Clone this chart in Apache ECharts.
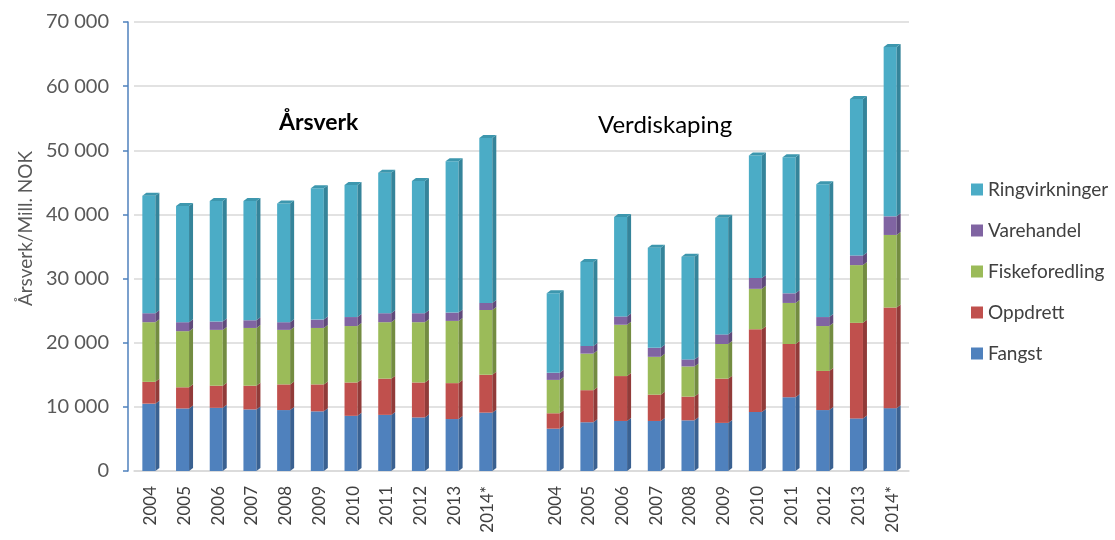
<!DOCTYPE html>
<html>
<head>
<meta charset="utf-8">
<script src="https://cdn.jsdelivr.net/npm/echarts@6/dist/echarts.min.js"></script>
<style>
  html, body { margin: 0; padding: 0; background: #fff; }
  #chart { width: 1115px; height: 540px; }
</style>
</head>
<body>
<div id="chart"></div>
<script>
const years = ['2004', '2005', '2006', '2007', '2008', '2009', '2010', '2011', '2012', '2013', '2014*'];

// Årsverk
const fangstAr   = [10500, 9750, 9850, 9600, 9500, 9300, 8600, 8750, 8350, 8100, 9100];
const oppdrettAr = [3400, 3300, 3450, 3700, 4000, 4200, 5200, 5650, 5450, 5600, 5900];
const fiskeAr    = [9300, 8750, 8700, 9000, 8500, 8800, 8800, 8800, 9400, 9700, 10100];
const vareAr     = [1400, 1400, 1300, 1200, 1200, 1300, 1400, 1400, 1400, 1300, 1100];
const ringAr     = [18300, 18100, 18800, 18600, 18500, 20500, 20600, 21900, 20600, 23600, 25700];

// Verdiskaping (Mill. NOK)
const fangstVs   = [6600, 7600, 7800, 7800, 7900, 7500, 9200, 11500, 9500, 8200, 9800];
const oppdrettVs = [2400, 5000, 7000, 4100, 3700, 6900, 12900, 8300, 6100, 14900, 15700];
const fiskeVs    = [5200, 5700, 8000, 5900, 4700, 5400, 6300, 6400, 7000, 9000, 11300];
const vareVs     = [1100, 1200, 1300, 1400, 1100, 1500, 1700, 1500, 1400, 1500, 2900];
const ringVs     = [12400, 13100, 15500, 15600, 16000, 18200, 19100, 21200, 20700, 24400, 26400];

const seriesNames = ['Fangst', 'Oppdrett', 'Fiskeforedling', 'Varehandel', 'Ringvirkninger'];
const colors     = ['#4f81bd', '#c0504d', '#9bbb59', '#8064a2', '#4bacc6'];
const sideColors = ['#3a6191', '#913b39', '#738c41', '#5f4a7a', '#35849a'];
const topColors  = ['#4674aa', '#ad4845', '#8ca850', '#735a92', '#3d97ae'];

const groupAr = [fangstAr, oppdrettAr, fiskeAr, vareAr, ringAr];
const groupVs = [fangstVs, oppdrettVs, fiskeVs, vareVs, ringVs];

// one empty slot between the two groups
const categories = years.concat([''], years);

function stackData(k) {
  const out = [];
  [groupAr, groupVs].forEach(function (grp, g) {
    grp[k].forEach(function (v, i) {
      let base = 0;
      for (let j = 0; j < k; j++) base += grp[j][i];
      out.push([g * (years.length + 1) + i, base, base + v, k === grp.length - 1 ? 1 : 0]);
    });
  });
  return out;
}

// fake 3D column: front face, right side and (for the top block) a cap
function renderBar(params, api) {
  const k = params.seriesIndex;
  const b = api.coord([api.value(0), api.value(1)]);
  const t = api.coord([api.value(0), api.value(2)]);
  const cx = b[0];
  const fl = cx - 8.5, fr = cx + 4.5, d = 4, up = 3;
  const children = [
    { type: 'rect', shape: { x: fl, y: t[1], width: fr - fl, height: b[1] - t[1] }, style: { fill: colors[k] } },
    { type: 'polygon', shape: { points: [[fr, b[1]], [fr, t[1]], [fr + d, t[1] - up], [fr + d, b[1] - up]] }, style: { fill: sideColors[k] } }
  ];
  if (api.value(3) === 1) {
    children.push({ type: 'polygon', shape: { points: [[fl, t[1]], [fr, t[1]], [fr + d, t[1] - up], [fl + d, t[1] - up]] }, style: { fill: topColors[k] } });
  }
  return { type: 'group', children: children };
}

const chart = echarts.init(document.getElementById('chart'));

const option = {
  animation: false,
  textStyle: { fontFamily: 'Lato' },
  grid: { left: 134, right: 206, top: 22, bottom: 69 },
  legend: {
    data: seriesNames.slice().reverse(),
    orient: 'vertical',
    left: 966,
    top: 175,
    icon: 'rect',
    itemWidth: 12,
    itemHeight: 12,
    itemGap: 22,
    textStyle: { fontSize: 19, color: '#404040', fontFamily: 'Lato' }
  },
  xAxis: {
    type: 'category',
    data: categories,
    axisLine: { show: true, lineStyle: { color: '#d9d9d9', width: 1.5 } },
    axisTick: { show: false },
    axisLabel: { interval: 0, rotate: 90, fontSize: 17, color: '#404040', margin: 15 }
  },
  yAxis: {
    type: 'value',
    min: 0,
    max: 70000,
    interval: 10000,
    offset: 6,
    name: 'Årsverk/Mill. NOK',
    nameLocation: 'middle',
    nameGap: 88,
    nameTextStyle: { fontSize: 19, color: '#595959', padding: [0, 0, 0, 36] },
    axisLine: { show: true, lineStyle: { color: '#4f81bd', width: 1.5 } },
    axisTick: { show: true, length: 5, lineStyle: { color: '#4f81bd', width: 1.5 } },
    axisLabel: {
      fontSize: 20,
      color: '#595959',
      margin: 19,
      formatter: function (v) { return String(v).replace(/\B(?=(\d{3})+(?!\d))/g, ' '); }
    },
    splitLine: { lineStyle: { color: '#d9d9d9', width: 1.5 } }
  },
  graphic: [
    {
      type: 'text', left: 258, top: 109, z: 10,
      style: { text: 'Årsverk', font: 'bold 23px Lato', fill: '#000', backgroundColor: '#fff', padding: [2, 21, 14, 21] }
    },
    {
      type: 'text', left: 598, top: 113, z: 10,
      style: { text: 'Verdiskaping', font: '24px Lato', fill: '#000' }
    }
  ],
  series: seriesNames.map(function (name, k) {
    return {
      name: name,
      type: 'custom',
      renderItem: renderBar,
      encode: { x: 0, y: [1, 2] },
      itemStyle: { color: colors[k] },
      data: stackData(k),
      z: 2
    };
  })
};

chart.setOption(option);
</script>
</body>
</html>
